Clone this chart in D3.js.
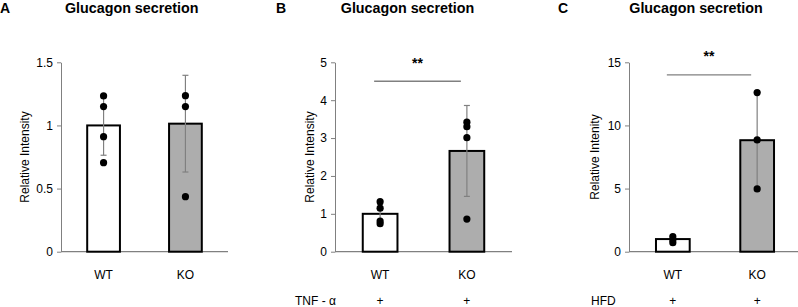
<!DOCTYPE html>
<meta charset="utf-8">
<head>
<script src="https://cdn.jsdelivr.net/npm/d3@7"></script>
<style>
  body { margin: 0; background: #fff; }
  text { font-family: "Liberation Sans", Arial, sans-serif; }
</style>
</head>
<body>
<svg id="fig" width="798" height="307"></svg>
<script>

// data
var categories = ["WT", "KO"];

var meansA = [1.0, 1.014];
var sdA    = [0.236, 0.383];
var dotsA  = [[1.234, 1.149, 0.911, 0.705], [1.236, 1.149, 0.436]];
var ticksA = [0, 0.5, 1, 1.5];

var meansB = [1.0, 2.66];
var sdB    = [0.25, 1.2];
var dotsB  = [[1.32, 1.15, 0.81, 0.74], [3.42, 3.30, 3.01, 0.86]];
var ticksB = [0, 1, 2, 3, 4, 5];

var meansC = [1.0, 8.83];
var sdC    = [0.2, 3.8];
var dotsC  = [[1.19, 0.93, 0.71], [12.6, 8.85, 4.97]];
var ticksC = [0, 5, 10, 15];

var barFill = ["#ffffff", "#adadad"];

var panels = [
  { letter: "A", lx: 0,   ax: 61,  w: 167, title: 131.7, ylab: "Relative Intensity", ylx: 25,
    means: meansA, sd: sdA, dots: dotsA, ticks: ticksA, max: 1.5, sig: null, row: null },
  { letter: "B", lx: 276, ax: 335, w: 177, title: 407.5, ylab: "Relative Intensity", ylx: 310,
    means: meansB, sd: sdB, dots: dotsB, ticks: ticksB, max: 5, sig: 4.5, starY: 68, row: "TNF - α", rowX: 295 },
  { letter: "C", lx: 558, ax: 629, w: 172, title: 696, ylab: "Relative Intenity", ylx: 595,
    means: meansC, sd: sdC, dots: dotsC, ticks: ticksC, max: 15, sig: 14, starY: 61, row: "HFD", rowX: 591 }
];

var plotTop = 62.3, plotBottom = 251.7;
var fs = 12;
var svg = d3.select("#fig");

panels.forEach(function(p) {
  var g = svg.append("g");

  var y = d3.scaleLinear().domain([0, p.max]).range([plotBottom, plotTop]);
  var x = d3.scaleBand().domain(categories)
    .range([p.ax, p.ax + p.w]).paddingInner(0.6).paddingOuter(0.32);

  // panel letter + title
  g.append("text").attr("x", p.lx).attr("y", 12.5)
    .attr("font-size", 14).attr("font-weight", "bold").text(p.letter);
  g.append("text").attr("x", p.title).attr("y", 13)
    .attr("text-anchor", "middle").attr("font-size", 14.3).attr("font-weight", "bold")
    .text("Glucagon secretion");

  // y axis
  var yAxis = g.append("g").attr("transform", "translate(" + p.ax + ",0)")
    .call(d3.axisLeft(y).tickValues(p.ticks).tickSize(4).tickPadding(4)
      .tickFormat(d3.format("~g")).tickSizeOuter(0));
  yAxis.select(".domain").attr("stroke", "#808080");
  yAxis.selectAll(".tick line").attr("stroke", "#808080");
  yAxis.selectAll(".tick text").attr("font-size", fs).attr("fill", "#000")
    .attr("font-family", "Liberation Sans, Arial, sans-serif");

  g.append("text")
    .attr("transform", "translate(" + p.ylx + "," + ((plotTop + plotBottom) / 2) + ") rotate(-90)")
    .attr("text-anchor", "middle").attr("dy", "0.35em").attr("font-size", fs)
    .text(p.ylab);

  // x axis line (under the bar outlines)
  g.append("line").attr("x1", p.ax).attr("x2", p.ax + p.w)
    .attr("y1", y(0)).attr("y2", y(0)).attr("stroke", "#808080").attr("stroke-width", 1.2);

  // bars
  g.selectAll("rect.bar").data(p.means).enter().append("rect")
    .attr("class", "bar")
    .attr("x", function(d, i) { return x(categories[i]); })
    .attr("y", function(d) { return y(d); })
    .attr("width", x.bandwidth())
    .attr("height", function(d) { return y(0) - y(d); })
    .attr("fill", function(d, i) { return barFill[i]; })
    .attr("stroke", "#000").attr("stroke-width", 2);

  // error bars
  p.means.forEach(function(m, i) {
    var cx = x(categories[i]) + x.bandwidth() / 2;
    var hi = y(m + p.sd[i]), lo = y(m - p.sd[i]);
    var eb = g.append("g").attr("stroke", "#808080").attr("stroke-width", 1.2);
    eb.append("line").attr("x1", cx).attr("x2", cx).attr("y1", hi).attr("y2", lo);
    eb.append("line").attr("x1", cx - 3).attr("x2", cx + 3).attr("y1", hi).attr("y2", hi);
    eb.append("line").attr("x1", cx - 3).attr("x2", cx + 3).attr("y1", lo).attr("y2", lo);

    // individual points
    g.selectAll(null).data(p.dots[i]).enter().append("circle")
      .attr("cx", cx).attr("cy", function(d) { return y(d); })
      .attr("r", 3.6).attr("fill", "#000");

    // category labels
    g.append("text").attr("x", cx).attr("y", 279)
      .attr("text-anchor", "middle").attr("font-size", fs).text(categories[i]);
    if (p.row) {
      g.append("text").attr("x", cx).attr("y", 305)
        .attr("text-anchor", "middle").attr("font-size", fs).text("+");
    }
  });

  if (p.row) {
    g.append("text").attr("x", p.rowX).attr("y", 305).attr("font-size", fs).text(p.row);
  }

  // significance bracket
  if (p.sig != null) {
    var c0 = x(categories[0]) + x.bandwidth() / 2 - 6;
    var c1 = x(categories[1]) + x.bandwidth() / 2 - 6;
    g.append("line").attr("x1", c0).attr("x2", c1)
      .attr("y1", y(p.sig)).attr("y2", y(p.sig))
      .attr("stroke", "#808080").attr("stroke-width", 1.3);
    g.append("text").attr("x", (c0 + c1) / 2).attr("y", p.starY)
      .attr("text-anchor", "middle").attr("font-size", 14).attr("font-weight", "bold")
      .text("**");
  }
});

</script>
</body>
